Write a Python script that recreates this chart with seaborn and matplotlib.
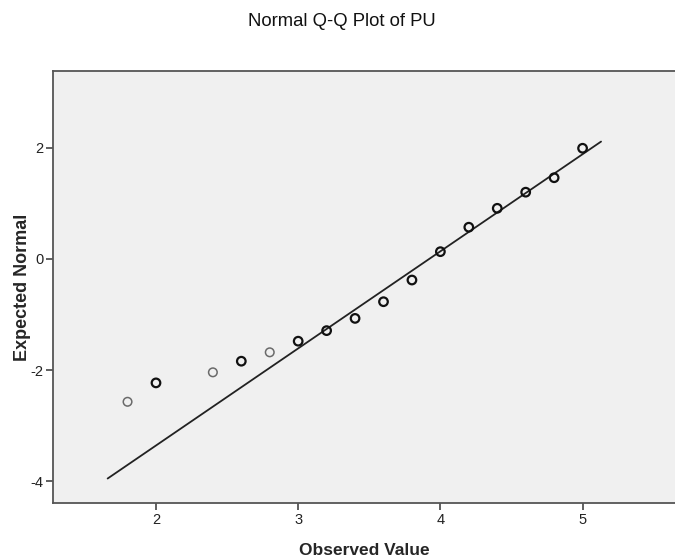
import matplotlib
matplotlib.use("Agg")
import matplotlib.pyplot as plt
import seaborn as sns
import pandas as pd

# Data
observed = [1.8, 2.0, 2.4, 2.6, 2.8, 3.0, 3.2, 3.4, 3.6, 3.8, 4.0, 4.2, 4.4, 4.6, 4.8, 5.0]
expected = [-2.57, -2.23, -2.04, -1.84, -1.68, -1.48, -1.29, -1.07, -0.77, -0.38,
            0.13, 0.57, 0.91, 1.20, 1.46, 1.99]
tied = [False, True, False, True, False, True, True, True, True, True,
        True, True, True, True, True, True]
line_obs = [1.66, 5.13]
line_exp = [-3.95, 2.11]
x_ticks = [2, 3, 4, 5]
y_ticks = [-4, -2, 0, 2]

df = pd.DataFrame({"obs": observed, "exp": expected, "tied": tied})

sns.set_style("white")
plt.rcParams["font.family"] = ["Liberation Sans", "DejaVu Sans"]

fig = plt.figure(figsize=(6.75, 5.58), dpi=100)
ax = fig.add_axes([0.079, 0.0986, 0.921, 0.7742])
ax.set_facecolor("#F0F0F0")

sns.lineplot(x=line_obs, y=line_exp, ax=ax, color="#222222", linewidth=1.3)
sns.scatterplot(data=df[~df["tied"]], x="obs", y="exp", ax=ax, marker="o", s=38,
                facecolor="none", edgecolor="#6a6a6a", linewidth=1.1, zorder=3)
sns.scatterplot(data=df[df["tied"]], x="obs", y="exp", ax=ax, marker="o", s=38,
                facecolor="none", edgecolor="#111111", linewidth=1.6, zorder=3)

ax.set_xlim(1.278, 5.65)
ax.set_ylim(-4.39, 3.38)
ax.set_xticks(x_ticks)
ax.set_yticks(y_ticks)
ax.set_xticklabels([str(t) for t in x_ticks])
ax.set_yticklabels([str(t) for t in y_ticks])
ax.tick_params(axis="both", direction="out", length=5, width=1.2, color="#444444",
               labelsize=10.5, labelcolor="#222222", pad=2, left=True, bottom=True)

for side in ["left", "bottom", "top"]:
    ax.spines[side].set_visible(True)
    ax.spines[side].set_color("#555555")
    ax.spines[side].set_linewidth(1.3)
ax.spines["right"].set_visible(False)

ax.set_xlabel("Observed Value", fontsize=12.5, fontweight="bold", labelpad=12)
ax.set_ylabel("Expected Normal", fontsize=13, fontweight="bold", labelpad=0)
fig.text(0.507, 0.962, "Normal Q-Q Plot of PU", ha="center", va="center", fontsize=13.3,
         color="#111111")

fig.savefig("out.png", dpi=100)
